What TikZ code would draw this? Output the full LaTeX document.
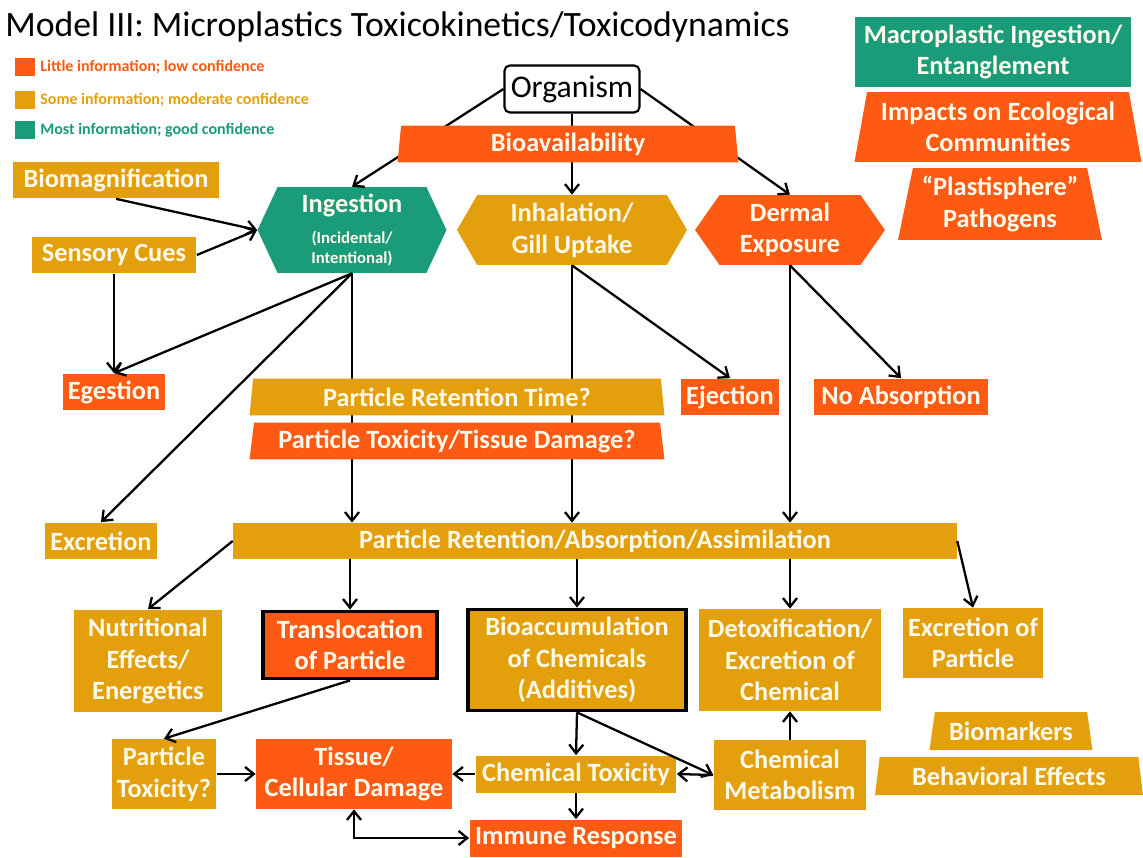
\documentclass[tikz,border=0pt]{standalone}
\usepackage{fontspec}
\setmainfont{Carlito}
\usepackage{tikz}
\usetikzlibrary{shapes.geometric}
\usetikzlibrary{shapes.symbols}
\usetikzlibrary{arrows.meta}
\usetikzlibrary{positioning}
\definecolor{lowred}{RGB}{255,90,20}
\definecolor{modgold}{RGB}{227,160,12}
\definecolor{goodgreen}{RGB}{26,155,122}
\definecolor{boxtext}{RGB}{255,250,235}
\tikzstyle{box}=[rectangle, text=boxtext, align=center, inner sep=0pt,
  font=\bfseries\fontsize{15}{18}\selectfont]
\tikzstyle{lowc}=[box, fill=lowred]
\tikzstyle{modc}=[box, fill=modgold]
\tikzstyle{goodc}=[box, fill=goodgreen]
\tikzstyle{trap}=[trapezium, trapezium stretches body, trapezium angle=79]
\tikzstyle{hexa}=[signal, signal to=east and west]
\tikzstyle{heavy}=[draw=black, line width=2.2pt]
\tikzstyle{link}=[-{Straight Barb[length=5pt,width=8pt]}, line width=1.3pt]
\tikzstyle{legtext}=[anchor=west, inner sep=0pt, font=\bfseries\fontsize{9.1}{11}\selectfont]

\begin{document}
\begin{tikzpicture}[x=0.02cm, y=-0.02cm]
\useasboundingbox[fill=white] (0,0) rectangle (1143,858);
% title and legend
\node[anchor=west, inner sep=0pt, font=\fontsize{20.3}{24}\selectfont] (title) at (5,27){Model III: Microplastics Toxicokinetics/Toxicodynamics};
\node[fill=lowred, minimum width=0.40cm, minimum height=0.36cm] (keylow) at (25,67){};
\node[fill=modgold, minimum width=0.40cm, minimum height=0.36cm] (keymod) at (25,100){};
\node[fill=goodgreen, minimum width=0.40cm, minimum height=0.36cm] (keygood) at (25,130){};
\node[legtext, text=lowred] (txtlow) at (40,67){Little information; low confidence};
\node[legtext, text=modgold] (txtmod) at (40,100){Some information; moderate confidence};
\node[legtext, text=goodgreen] (txtgood) at (40,130){Most information; good confidence};
% top right
\node[goodc, minimum width=5.54cm, minimum height=1.40cm] (macro) at (993,52){Macroplastic Ingestion/\\Entanglement};
\node[lowc, trap, trapezium angle=76, minimum width=5.74cm, minimum height=1.40cm] (impacts) at (998,127){Impacts on Ecological\\Communities};
\node[lowc, trap, trapezium angle=75, minimum width=4.08cm, minimum height=1.44cm] (plast) at (1000,204){“Plastisphere”\\Pathogens};
% organism and routes
\node[draw=black, line width=1.2pt, fill=white, rounded corners=3pt, minimum width=2.70cm, minimum height=0.94cm, inner sep=0pt, font=\fontsize{18}{20}\selectfont] (org) at (572,89){Organism};
\node[goodc, hexa, signal pointer angle=130, minimum width=3.78cm, minimum height=1.72cm, font=\bfseries\fontsize{9.5}{11.3}\selectfont] (ing) at (352,230){{\fontsize{15}{17}\selectfont Ingestion}\\[6pt](Incidental/\\Intentional)};
\node[modc, hexa, signal pointer angle=120, minimum width=4.60cm, minimum height=1.40cm] (inh) at (572,230){Inhalation/\\Gill Uptake};
\node[lowc, hexa, signal pointer angle=110, minimum width=3.80cm, minimum height=1.40cm] (der) at (790,230){Dermal\\Exposure};
\draw[link](org.west) -- (ing.north);
\draw[link](org.south) -- (inh.north);
\draw[link](org.east) -- (der.north);
\node[lowc, trap, trapezium angle=81, minimum width=6.82cm, minimum height=0.74cm] (bio) at (568,144){Bioavailability};
% left column
\node[modc, minimum width=4.12cm, minimum height=0.74cm] (biomag) at (116,180){Biomagnification};
\node[modc, minimum width=3.30cm, minimum height=0.74cm] (sens) at (114,255){Sensory Cues};
\node[lowc, minimum width=2.06cm, minimum height=0.74cm] (eges) at (114,392){Egestion};
\node[modc, minimum width=2.24cm, minimum height=0.74cm] (excr) at (101,541){Excretion};
\draw[link](biomag.south) -- (ing.west);
\draw[link](sens.east) -- (ing.west);
\draw[link](sens.south) -- (eges.north);
\draw[link](ing.south) -- (eges.north);
\draw[link](ing.south) -- (excr.north);
% middle
\node[lowc, minimum width=1.96cm, minimum height=0.74cm] (ejec) at (730,397){Ejection};
\node[lowc, minimum width=3.50cm, minimum height=0.74cm] (noabs) at (901,397){No Absorption};
\node[modc, minimum width=14.48cm, minimum height=0.72cm] (praa) at (595,541){Particle Retention/Absorption/Assimilation};
\draw[link](ing.south) -- (ing.south |- praa.north);
\draw[link](inh.south) -- (inh.south |- praa.north);
\draw[link](inh.south) -- (ejec.north);
\draw[link](der.south) -- (der.south |- praa.north);
\draw[link](der.south) -- (noabs.north);
\node[modc, trap, minimum width=8.30cm, minimum height=0.74cm] (prt) at (457,397){Particle Retention Time?};
\node[lowc, trap, minimum width=8.30cm, minimum height=0.74cm] (ptd) at (457,441){Particle Toxicity/Tissue Damage?};
% effects
\node[modc, minimum width=2.98cm, minimum height=2.06cm] (nutr) at (148,661){Nutritional\\Effects/\\Energetics};
\node[lowc, heavy, minimum width=3.48cm, minimum height=1.34cm] (transl) at (350,645){Translocation\\of Particle};
\node[modc, heavy, minimum width=4.36cm, minimum height=2.02cm] (bioacc) at (577,660){Bioaccumulation\\of Chemicals\\(Additives)};
\node[modc, minimum width=3.64cm, minimum height=2.04cm] (detox) at (790,660){Detoxification/\\Excretion of\\Chemical};
\node[modc, minimum width=2.82cm, minimum height=1.40cm] (excpart) at (973,643){Excretion of\\Particle};
\draw[link](praa.west) -- (nutr.north);
\draw[link](transl.north |- praa.south) -- (transl.north);
\draw[link](bioacc.north |- praa.south) -- (bioacc.north);
\draw[link](detox.north |- praa.south) -- (detox.north);
\draw[link](praa.east) -- (excpart.north);
% bottom row
\node[modc, minimum width=2.10cm, minimum height=1.40cm] (ptox) at (164,774){Particle\\Toxicity?};
\node[lowc, minimum width=3.92cm, minimum height=1.40cm] (tissue) at (354,774){Tissue/\\Cellular Damage};
\node[modc, minimum width=4.02cm, minimum height=0.74cm] (chemtox) at (576,774){Chemical Toxicity};
\node[modc, minimum width=3.06cm, minimum height=1.40cm] (chemmet) at (790,775){Chemical\\Metabolism};
\node[lowc, minimum width=4.26cm, minimum height=0.74cm] (immune) at (576,838){Immune Response};
\node[modc, trap, trapezium angle=74, minimum width=3.26cm, minimum height=0.76cm] (biomark) at (1011,731){Biomarkers};
\node[modc, trap, trapezium angle=76, minimum width=5.36cm, minimum height=0.76cm] (behav) at (1009,776){Behavioral Effects};
\draw[link](transl.south) -- (ptox.north);
\draw[link](ptox.east) -- (tissue.west);
\draw[link](chemtox.west) -- (tissue.east);
\draw[link](bioacc.south) -- (chemtox.north);
\draw[link](bioacc.south) -- (chemmet.west);
\draw[link](chemmet.west) -- (chemtox.east);
\draw[link](chemmet.north) -- (detox.south);
\draw[link](chemtox.south) -- (immune.north);
\draw[link, {Straight Barb[length=5pt,width=8pt]}-{Straight Barb[length=5pt,width=8pt]}](tissue.south) |- (immune.west);
\end{tikzpicture}
\end{document}
